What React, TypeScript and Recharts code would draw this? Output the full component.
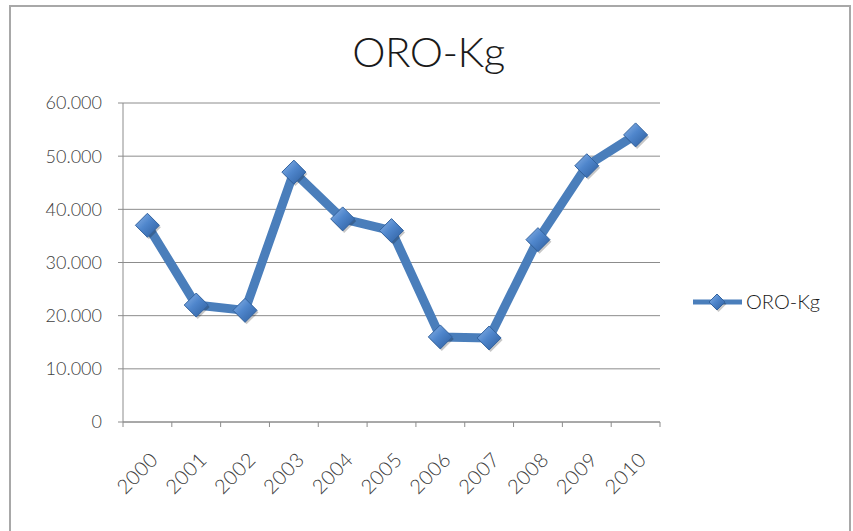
import { LineChart, Line, XAxis, YAxis, CartesianGrid, Legend } from 'recharts'

const years = ['2000', '2001', '2002', '2003', '2004', '2005', '2006', '2007', '2008', '2009', '2010']
const oroKg = [37000, 22000, 21000, 47000, 38200, 36000, 16000, 15800, 34300, 48200, 54000]
const yTicks = [0, 10000, 20000, 30000, 40000, 50000, 60000]

const data = years.map((year, i) => ({ year, value: oroKg[i] }))

const FONT = 'Lato, "Open Sans", sans-serif'
const LINE_COLOR = '#4a7ebb'
const AXIS_COLOR = '#8c8c8c'
const HALF_BAND = 24.4

function formatThousands(v: number) {
  if (v === 0) return '0'
  return v.toLocaleString('de-DE')
}

function Diamond({ cx, cy, size = 12 }: { cx?: number; cy?: number; size?: number }) {
  if (cx == null || cy == null) return null
  const s = size
  const pts = `${cx},${cy - s} ${cx + s},${cy} ${cx},${cy + s} ${cx - s},${cy}`
  const shadow = `${cx + 1.5},${cy - s + 2} ${cx + s + 1.5},${cy + 2} ${cx + 1.5},${cy + s + 2} ${cx - s + 1.5},${cy + 2}`
  return (
    <g>
      <polygon points={shadow} fill="rgba(0,0,0,0.22)" />
      <polygon points={pts} fill="url(#diamondFill)" stroke="#33639f" strokeWidth={1} />
    </g>
  )
}

function XTick(props: any) {
  const { x, y, payload, index } = props
  const last = index === years.length - 1
  return (
    <g>
      <line x1={x - HALF_BAND} y1={y} x2={x - HALF_BAND} y2={y + 5} stroke={AXIS_COLOR} />
      {last && <line x1={x + HALF_BAND} y1={y} x2={x + HALF_BAND} y2={y + 5} stroke={AXIS_COLOR} />}
      <text
        x={0}
        y={0}
        transform={`translate(${x + 12},${y + 39}) rotate(-45)`}
        textAnchor="end"
        fontSize={20}
        fontWeight={300}
        letterSpacing={0.5}
        fontFamily={FONT}
        fill="#404040"
      >
        {payload.value}
      </text>
    </g>
  )
}

function LegendContent() {
  return (
    <svg width={160} height={26}>
      <line x1={3} y1={13} x2={52} y2={13} stroke={LINE_COLOR} strokeWidth={5} />
      <Diamond cx={27} cy={13} size={8} />
      <text x={56} y={20} fontSize={20} fontWeight={300} fontFamily={FONT} fill="#1a1a1a">
        ORO-Kg
      </text>
    </svg>
  )
}

export default function App() {
  return (
    <div style={{ position: 'absolute', left: 0, top: 0, width: 853, height: 531, background: '#fff', overflow: 'hidden' }}>
      <div
        style={{
          position: 'absolute',
          left: 9,
          top: 5,
          width: 838,
          height: 560,
          border: '2px solid #a8a8a8',
        }}
      />
      <div
        style={{
          position: 'absolute',
          left: 0,
          top: 25,
          width: 857,
          textAlign: 'center',
          fontFamily: FONT,
          fontSize: 42,
          fontWeight: 300,
          letterSpacing: -0.5,
          color: '#1a1a1a',
          lineHeight: '52px',
        }}
      >
        ORO-Kg
      </div>
      <div style={{ position: 'absolute', left: 0, top: 0 }}>
        <LineChart width={853} height={531} data={data} margin={{ top: 103, right: 193, bottom: 0, left: 0 }}>
          <defs>
            <linearGradient id="diamondFill" x1="0" y1="0" x2="1" y2="1">
              <stop offset="0%" stopColor="#8fb6e8" />
              <stop offset="45%" stopColor="#4f86cc" />
              <stop offset="100%" stopColor="#2c5c9c" />
            </linearGradient>
          </defs>
          <CartesianGrid vertical={false} stroke={AXIS_COLOR} strokeWidth={1} />
          <XAxis
            dataKey="year"
            height={109}
            interval={0}
            padding={{ left: HALF_BAND, right: HALF_BAND }}
            tickLine={false}
            tickSize={0}
            tickMargin={0}
            axisLine={{ stroke: AXIS_COLOR }}
            tick={<XTick />}
          />
          <YAxis
            width={123}
            domain={[0, 60000]}
            ticks={yTicks}
            tickFormatter={formatThousands}
            tickSize={5}
            tickMargin={16}
            tickLine={{ stroke: AXIS_COLOR }}
            axisLine={{ stroke: AXIS_COLOR }}
            tick={{ fontSize: 18, fontWeight: 300, fontFamily: FONT, fill: '#404040' }}
          />
          <Legend
            layout="horizontal"
            align="center"
            verticalAlign="middle"
            content={<LegendContent />}
            wrapperStyle={{ position: 'absolute', left: 690, top: 289, width: 160 }}
          />
          <Line
            type="linear"
            dataKey="value"
            name="ORO-Kg"
            stroke={LINE_COLOR}
            strokeWidth={9}
            strokeLinejoin="round"
            dot={<Diamond />}
            activeDot={false}
            isAnimationActive={false}
          />
        </LineChart>
      </div>
    </div>
  )
}
